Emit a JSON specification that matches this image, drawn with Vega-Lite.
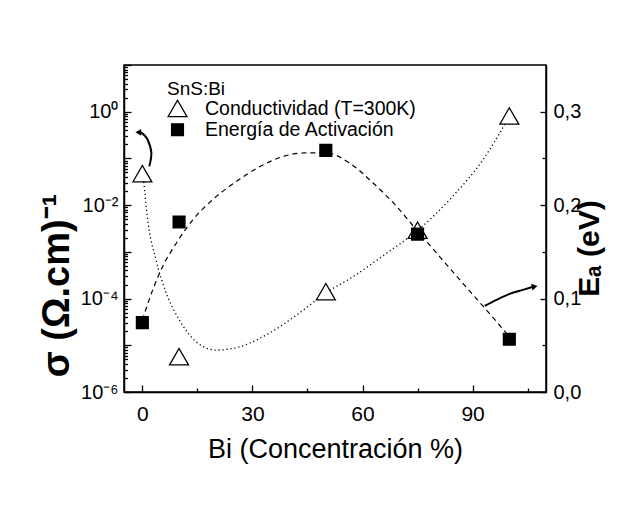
{
  "$schema": "https://vega.github.io/schema/vega-lite/v6.json",
  "width": 422,
  "height": 327,
  "autosize": {"type": "none"},
  "padding": {"left": 124, "top": 65, "right": 95, "bottom": 115},
  "background": "white",
  "config": {
    "font": "Liberation Sans",
    "view": {"stroke": "black", "strokeWidth": 1.5},
    "axis": {"domainColor": "black", "tickColor": "black", "labelColor": "black", "titleColor": "black", "grid": false, "domainWidth": 1.5, "tickWidth": 1.3, "labelOverlap": false, "labelFlush": false}
  },
  "datasets": {
    "cond": [
      {"x": 0, "s": 0.047, "serie": "Conductividad (T=300K)"},
      {"x": 10, "s": 0.0000057, "serie": "Conductividad (T=300K)"},
      {"x": 50, "s": 0.00014, "serie": "Conductividad (T=300K)"},
      {"x": 75, "s": 0.0029, "serie": "Conductividad (T=300K)"},
      {"x": 100, "s": 0.81, "serie": "Conductividad (T=300K)"}
    ],
    "condFit": [
      {"x": 0.2, "s": 0.0468},
      {"x": 1.45, "s": 0.0049},
      {"x": 3.7, "s": 0.00068},
      {"x": 6.5, "s": 0.000132},
      {"x": 10.1, "s": 0.0000347},
      {"x": 14.6, "s": 0.000012},
      {"x": 20, "s": 0.0000079},
      {"x": 26.5, "s": 0.0000093},
      {"x": 34.6, "s": 0.0000182},
      {"x": 42.8, "s": 0.000049},
      {"x": 50, "s": 0.000132},
      {"x": 57.3, "s": 0.00029},
      {"x": 66.5, "s": 0.00093},
      {"x": 74.6, "s": 0.0027},
      {"x": 84.6, "s": 0.0155},
      {"x": 92.8, "s": 0.093},
      {"x": 100, "s": 0.79}
    ],
    "ea": [
      {"x": 0, "e": 0.0743, "serie": "Energía de Activación"},
      {"x": 10, "e": 0.182, "serie": "Energía de Activación"},
      {"x": 50, "e": 0.2586, "serie": "Energía de Activación"},
      {"x": 75, "e": 0.169, "serie": "Energía de Activación"},
      {"x": 100, "e": 0.0565, "serie": "Energía de Activación"}
    ],
    "eaFit": [
      {"x": 0, "e": 0.077},
      {"x": 2.8, "e": 0.109},
      {"x": 5.5, "e": 0.134},
      {"x": 9.2, "e": 0.159},
      {"x": 13.7, "e": 0.184},
      {"x": 19.2, "e": 0.206},
      {"x": 25.5, "e": 0.225},
      {"x": 31.9, "e": 0.241},
      {"x": 38.3, "e": 0.252},
      {"x": 44.6, "e": 0.256},
      {"x": 50, "e": 0.256},
      {"x": 56.5, "e": 0.245},
      {"x": 62.8, "e": 0.224},
      {"x": 69.2, "e": 0.199},
      {"x": 74.6, "e": 0.174},
      {"x": 81, "e": 0.145},
      {"x": 87.4, "e": 0.116},
      {"x": 93.7, "e": 0.088},
      {"x": 99.2, "e": 0.063}
    ],
    "arrow1": [
      {"i": 0, "x": 1.9, "s": 0.0676},
      {"i": 1, "x": 2.45, "s": 0.132},
      {"i": 2, "x": 1.45, "s": 0.251},
      {"i": 3, "x": 0.1, "s": 0.339},
      {"i": 4, "x": -0.9, "s": 0.362}
    ],
    "head1": [{"x": -1.1, "s": 0.363}],
    "arrow2": [
      {"x": 93.3, "e": 0.0921},
      {"x": 96.5, "e": 0.0986},
      {"x": 100.1, "e": 0.105},
      {"x": 103.7, "e": 0.1093},
      {"x": 106.2, "e": 0.1122}
    ],
    "head2": [{"x": 106.9, "e": 0.1129}]
  },
  "layer": [
    {
      "data": {"name": "condFit"},
      "mark": {"type": "line", "color": "black", "strokeDash": [1.2, 2.8], "strokeWidth": 1.3, "interpolate": "monotone"},
      "encoding": {
        "x": {"field": "x", "type": "quantitative", "scale": {"domain": [-5, 110], "nice": false, "zero": false},
          "axis": {"orient": "bottom", "values": [0, 15, 30, 45, 60, 75, 90, 105], "tickSize": -7,
            "tickDash": {"condition": {"test": "datum.value % 30 === 0", "value": [20, 0]}, "value": [4, 30]},
            "labelExpr": "datum.value % 30 === 0 ? datum.label : ''",
            "labelPadding": 18, "labelFontSize": 21, "title": "Bi (Concentración %)", "titleFontSize": 27, "titleFontWeight": "normal", "titlePadding": 12}},
        "y": {"field": "s", "type": "quantitative", "scale": {"type": "log", "domain": [0.000001, 10], "nice": false},
          "axis": {"orient": "left",
            "values": [0.000001,0.000002,0.000003,0.000004,0.000005,0.000006,0.000007,0.000008,0.000009,0.00001,0.00002,0.00003,0.00004,0.00005,0.00006,0.00007,0.00008,0.00009,0.0001,0.0002,0.0003,0.0004,0.0005,0.0006,0.0007,0.0008,0.0009,0.001,0.002,0.003,0.004,0.005,0.006,0.007,0.008,0.009,0.01,0.02,0.03,0.04,0.05,0.06,0.07,0.08,0.09,0.1,0.2,0.3,0.4,0.5,0.6,0.7,0.8,0.9,1,2,3,4,5,6,7,8,9,10],
            "tickSize": -7,
            "tickDash": {"condition": {"test": "abs(log(datum.value)/LN10 - round(log(datum.value)/LN10)) < 0.001", "value": [20, 0]}, "value": [3.5, 30]},
            "labelPadding": 13, "labelFontSize": 20,
            "labelExpr": "abs(log(datum.value)/LN10 - round(log(datum.value)/LN10)) > 0.001 ? '' : datum.value < 5e-6 ? '10⁻⁶' : datum.value < 5e-5 ? '' : datum.value < 5e-4 ? '10⁻⁴' : datum.value < 5e-3 ? '' : datum.value < 5e-2 ? '10⁻²' : datum.value < 0.5 ? '' : datum.value < 5 ? '10⁰' : ''",
            "title": "σ (Ω.cm)⁻¹", "titleFontSize": 38, "titleFontWeight": "bold", "titleX": -56, "titleY": 220, "titleBaseline": "alphabetic", "titleAlign": "center", "titleAngle": 270}}
      }
    },
    {
      "data": {"name": "eaFit"},
      "mark": {"type": "line", "color": "black", "strokeDash": [5, 4], "strokeWidth": 1.2, "interpolate": "monotone"},
      "encoding": {
        "x": {"field": "x", "type": "quantitative"},
        "y": {"field": "e", "type": "quantitative", "scale": {"domain": [0, 0.35], "nice": false, "zero": false},
          "axis": {"orient": "right", "values": [0, 0.05, 0.1, 0.15, 0.2, 0.25, 0.3], "tickSize": -6,
            "tickDash": {"condition": {"test": "abs(datum.value*10 - round(datum.value*10)) < 0.01", "value": [20, 0]}, "value": [4, 30]},
            "labelPadding": 13, "labelFontSize": 20, "format": ".2f",
            "labelExpr": "abs(datum.value*10 - round(datum.value*10)) < 0.01 ? replace(format(datum.value, '.1f'), '.', ',') : ''",
            "title": "Eₐ (eV)", "titleFontSize": 30, "titleFontWeight": "bold", "titleAngle": 270, "titleX": 52, "titleY": 183, "titleBaseline": "alphabetic", "titleAlign": "center"}}
      }
    },
    {
      "data": {"name": "arrow1"},
      "mark": {"type": "line", "color": "black", "strokeWidth": 2, "interpolate": "cardinal"},
      "encoding": {
        "x": {"field": "x", "type": "quantitative"},
        "y": {"field": "s", "type": "quantitative", "scale": {"type": "log", "domain": [0.000001, 10], "nice": false}, "axis": null},
        "order": {"field": "i"}
      }
    },
    {
      "data": {"name": "head1"},
      "mark": {"type": "point", "shape": "triangle-left", "filled": true, "color": "black", "opacity": 1, "size": 45},
      "encoding": {
        "x": {"field": "x", "type": "quantitative"},
        "y": {"field": "s", "type": "quantitative", "scale": {"type": "log", "domain": [0.000001, 10], "nice": false}, "axis": null}
      }
    },
    {
      "data": {"name": "arrow2"},
      "mark": {"type": "line", "color": "black", "strokeWidth": 2, "interpolate": "monotone"},
      "encoding": {
        "x": {"field": "x", "type": "quantitative"},
        "y": {"field": "e", "type": "quantitative", "scale": {"domain": [0, 0.35], "nice": false, "zero": false}, "axis": null}
      }
    },
    {
      "data": {"name": "head2"},
      "mark": {"type": "point", "shape": "triangle-right", "filled": true, "color": "black", "opacity": 1, "size": 45, "angle": -12},
      "encoding": {
        "x": {"field": "x", "type": "quantitative"},
        "y": {"field": "e", "type": "quantitative", "scale": {"domain": [0, 0.35], "nice": false, "zero": false}, "axis": null}
      }
    },
    {
      "data": {"name": "cond"},
      "mark": {"type": "point", "filled": true, "stroke": "black", "strokeWidth": 1.3, "opacity": 1},
      "encoding": {
        "x": {"field": "x", "type": "quantitative"},
        "y": {"field": "s", "type": "quantitative", "scale": {"type": "log", "domain": [0.000001, 10], "nice": false}, "axis": null},
        "shape": {"field": "serie", "type": "nominal", "scale": {"domain": ["Conductividad (T=300K)", "Energía de Activación"], "range": ["M-1,0.866L0,-0.866L1,0.866Z", "square"]},
          "legend": {"orient": "none", "legendX": 43, "legendY": 15, "title": "SnS:Bi", "titleFontSize": 19, "titleFontWeight": "normal", "titleColor": "black", "labelFontSize": 19.5, "labelColor": "black", "labelLimit": 400, "symbolStrokeColor": "black", "symbolStrokeWidth": 1.3, "symbolOpacity": 1, "rowPadding": -2, "labelOffset": 17, "titlePadding": -1}},
        "fill": {"field": "serie", "type": "nominal", "scale": {"domain": ["Conductividad (T=300K)", "Energía de Activación"], "range": ["white", "black"]}},
        "size": {"field": "serie", "type": "nominal", "scale": {"domain": ["Conductividad (T=300K)", "Energía de Activación"], "range": [360, 140]}}
      }
    },
    {
      "data": {"name": "ea"},
      "mark": {"type": "point", "filled": true, "stroke": "black", "strokeWidth": 1.3, "opacity": 1},
      "encoding": {
        "x": {"field": "x", "type": "quantitative"},
        "y": {"field": "e", "type": "quantitative", "scale": {"domain": [0, 0.35], "nice": false, "zero": false}, "axis": null},
        "shape": {"field": "serie", "type": "nominal"},
        "fill": {"field": "serie", "type": "nominal"},
        "size": {"field": "serie", "type": "nominal"}
      }
    }
  ],
  "resolve": {"scale": {"y": "independent"}}
}
